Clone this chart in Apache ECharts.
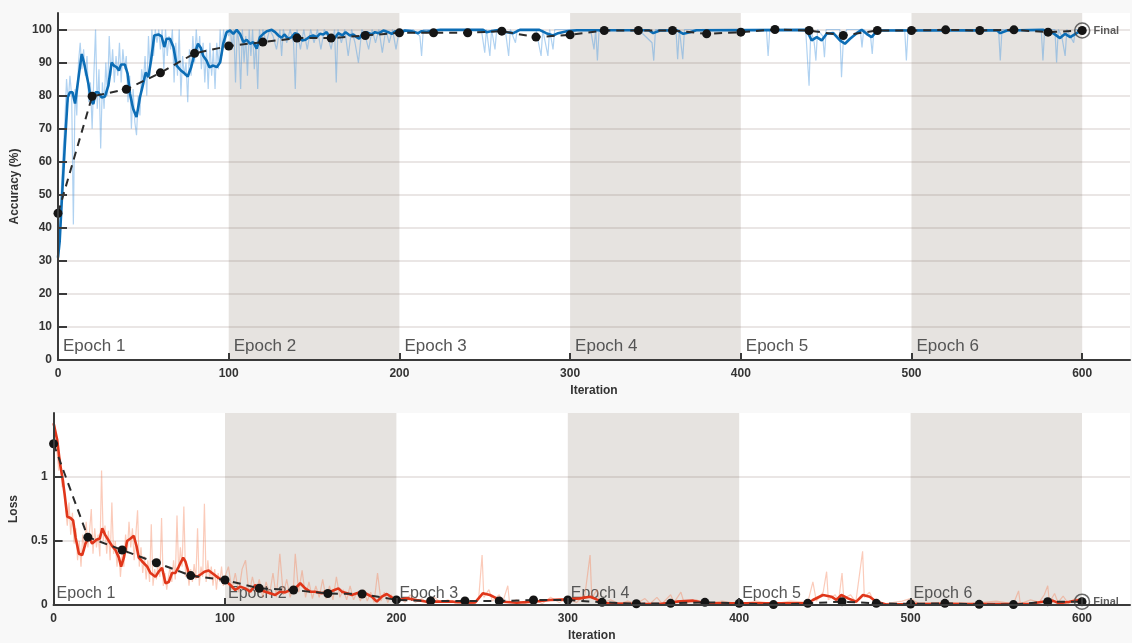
<!DOCTYPE html>
<html>
<head>
<meta charset="utf-8">
<title>Training Progress</title>
<script src="https://cdn.jsdelivr.net/npm/echarts@6/dist/echarts.min.js"></script>
<style>
  html, body { margin: 0; padding: 0; background: #f8f8f8; }
  #chart { width: 1132px; height: 643px; }
</style>
</head>
<body>
<div id="chart"></div>
<script>
// ---- axis ticks and epoch layout ----
const xTicks = [0, 100, 200, 300, 400, 500, 600];
const accTicks = [0, 10, 20, 30, 40, 50, 60, 70, 80, 90, 100];
const lossTicks = [0, 0.5, 1];
const epochNames = ['Epoch 1', 'Epoch 2', 'Epoch 3', 'Epoch 4', 'Epoch 5', 'Epoch 6'];
const epochBounds = [0, 100, 200, 300, 400, 500, 600];
const epochShaded = [false, true, false, true, false, true];

// ---- validation checkpoints ----
const valIters = [0, 20, 40, 60, 80, 100, 120, 140, 160, 180, 200, 220, 240, 260, 280, 300,
  320, 340, 360, 380, 400, 420, 440, 460, 480, 500, 520, 540, 560, 580, 600];
const valAcc = [44.4, 79.8, 81.9, 86.9, 92.8, 95.0, 96.2, 97.4, 97.4, 98.2, 99.0, 99.0, 99.0, 99.5, 97.7, 98.4,
  99.7, 99.7, 99.7, 98.7, 99.2, 100, 99.7, 98.2, 99.7, 99.7, 99.9, 99.7, 99.9, 99.2, 99.7];
const valLoss = [1.26, 0.53, 0.43, 0.33, 0.23, 0.195, 0.13, 0.117, 0.09, 0.086, 0.04, 0.031, 0.031, 0.031, 0.039, 0.039,
  0.021, 0.01, 0.013, 0.021, 0.013, 0.003, 0.013, 0.026, 0.013, 0.008, 0.013, 0.005, 0.003, 0.026, 0.026];

// ---- training accuracy, smoothed [iteration, %] ----
const accSmooth = [[0,31],[1,36],[2,46],[4,65],[5.7,79.5],[7,81],[8.5,81],[10,77.6],[11,77],[12.3,86.6],[13.9,92.6],
  [15.4,89.6],[16.5,89],[17.8,83.6],[19.3,78.5],[20.7,77.5],[22,81],[23.5,81],[25.6,79.4],[27.5,79.7],[29.5,83],
  [31.4,90],[32.9,89],[34.4,88.6],[35.7,87.6],[36.9,89.4],[39.2,89.4],[40.8,86.6],[42.2,80.5],[44,76],[46,73.5],
  [48,79.5],[49.4,82.5],[51.4,87],[52.9,85.6],[54.5,90.6],[56.4,98.2],[58.8,98.5],[60.7,97.9],[62.3,94.7],[63.6,97.2],
  [65.6,97.2],[67.6,94.7],[69.5,89.1],[72,87.6],[74,86.8],[76,85.8],[78,88.6],[80,92.6],[82,95.7],[83.6,94.5],
  [85,92.1],[87,90.6],[88.7,88.6],[91,89.1],[93,88.6],[95,90.1],[96.8,95.7],[98.8,99.2],[100.8,99.7],[102.7,98.7],
  [104.7,99.9],[106.6,98.7],[108.6,96.2],[110.5,96.9],[112.5,95.7],[114.4,96.2],[116.4,94.2],[118.3,97.7],[120.3,98.7],
  [122.3,99.5],[125.2,99.9],[127.2,99.2],[129.1,98.2],[131,97.5],[132.6,98.5],[134.9,97.2],[136.9,97.7],[138.8,98.9],
  [140.8,98.5],[143,96.7],[145,96.9],[147.6,97.9],[149.5,98.2],[151.5,97.7],[153.4,98.7],[155.4,98.5],[157.4,99.2],
  [159.3,97.5],[162.3,97.5],[164.2,98.9],[166.6,98.2],[168.5,99.2],[171,98.2],[173,98.5],[175,97.7],[176.4,97.2],
  [178.3,98.7],[180.8,99.2],[183.8,98.5],[185.7,99.2],[188,98.9],[190.6,99.7],[193.5,99.2],[195.5,98.7],[197.8,99.5],
  [200.3,98.9],[203.3,99.7],[207.2,99.5],[211,98.9],[213,99.5],[216,99.3],[220,99.7],[224,99.9],[249,99.9],[251,99.2],
  [255,99.6],[259,99.9],[263,99.2],[266.7,98.9],[270.6,99.9],[282,99.9],[286,98.9],[290,98.2],[293,98.9],[298,99.5],
  [304,99.8],[317,99.8],[319.5,99.3],[322,99.8],[346,99.8],[348.7,98.9],[352.6,99.7],[362.4,99.8],[366.3,98.7],
  [370.2,99.2],[374,99.8],[438.6,99.9],[441.5,96.7],[444.5,97.7],[447.4,96.7],[450.3,98.7],[454.2,98.9],[458.1,96.7],
  [461,95.7],[464,97.2],[467.9,98.9],[470.8,99.9],[473.7,98.7],[476.6,97.7],[480,99.7],[550,99.8],[552,98.9],
  [556,99.7],[577,99.9],[583,98.9],[587,97.4],[590,98.7],[593,97.7],[597,99],[600,99.8]];

// ---- training accuracy, per iteration [iteration, %] ----
const accRaw = [[0,28],[1,40],[2,52],[3,63],[4,72],[5,85],[6,78],[7,86],[8,80],[9,41],[10,82],[11,74],[12,90],[13,96],
  [14,88],[15,94],[16,86],[17,92],[18,78],[19,84],[20,70],[21,86],[22,100],[23,76],[24,88],[25,64],[26,84],[27,76],
  [28,90],[29,80],[30,98],[31,86],[32,94],[33,84],[34,92],[35,86],[36,96],[37,84],[38,94],[39,88],[40,92],[41,78],
  [42,86],[43,70],[44,82],[45,72],[46,68],[47,80],[48,74],[49,88],[50,84],[51,92],[52,80],[53,98],[54,86],[55,100],
  [56,92],[57,100],[58,96],[59,100],[60,94],[61,100],[62,88],[63,100],[64,92],[65,98],[66,94],[67,100],[68,84],
  [69,96],[70,86],[71,100],[72,80],[73,92],[74,86],[75,90],[76,78],[77,94],[78,86],[79,98],[80,90],[81,100],[82,92],
  [83,98],[84,88],[85,96],[86,84],[87,94],[88,82],[89,96],[90,86],[91,94],[92,82],[93,96],[94,88],[95,100],[96,92],
  [97,100],[98,96],[99,100],[100,98],[101,100],[102,94],[103,100],[104,84],[105,100],[106,96],[107,82],[108,100],
  [109,90],[110,98],[111,86],[112,100],[113,92],[114,100],[115,88],[116,96],[117,82],[118,100],[119,96],[120,100],
  [122,96],[124,100],[126,98],[128,94],[130,100],[131,92],[132,100],[134,96],[136,100],[138,96],[139,82],[140,100],
  [142,94],[144,100],[146,94],[148,100],[150,96],[152,100],[154,94],[156,100],[158,98],[160,94],[162,100],[163,84],
  [164,100],[166,96],[168,100],[170,92],[172,100],[174,96],[176,90],[178,100],[180,98],[182,94],[184,100],[186,96],
  [188,100],[190,93],[192,100],[194,96],[196,100],[198,94],[200,100],[202,100],[208,100],[212,98],[213,92],[214,100],
  [230,100],[240,100],[248,100],[250,93],[251,100],[253,92],[254,100],[256,94],[257,100],[262,100],[264,92],[265,100],
  [268,96],[269,100],[280,100],[283,92],[284,100],[287,92],[288,100],[290,94],[291,100],[300,100],[312,100],[314,94],
  [315,100],[316,90.6],[317,100],[340,100],[348,96],[349,90.6],[350,100],[362,100],[363,91],[364,100],[366,91],
  [367,100],[380,100],[400,100],[415,100],[416,92],[417,100],[438,100],[440,83],[441,100],[443,96],[444,90.6],
  [445,100],[448,98],[449,91.6],[450,100],[458,100],[459,85.6],[460,96],[462,100],[470,100],[471,94.6],[472,100],
  [476,98],[477,92.6],[478,100],[496,100],[497,90.6],[498,100],[540,100],[551,100],[552,90.6],[553,100],[576,100],
  [577,90.6],[578,100],[584,100],[585,90],[586,100],[588,98],[590,92],[591,100],[595,96],[596,100],[600,100]];

// ---- training loss, smoothed [iteration, loss] ----
const lossSmooth = [[0,1.42],[2.1,1.29],[3.7,1.11],[5.1,1.0],[6.4,0.87],[8,0.69],[9.9,0.68],[11.4,0.66],[12.8,0.53],
  [14.8,0.40],[16.7,0.39],[18.6,0.48],[20.6,0.53],[22.5,0.48],[25,0.51],[27,0.52],[28.4,0.6],[30,0.55],[32.3,0.5],
  [34.2,0.46],[36.1,0.43],[38.1,0.37],[39.4,0.3],[41,0.37],[42.9,0.5],[44.9,0.52],[46.8,0.54],[48.4,0.46],[49.7,0.37],
  [51.7,0.34],[54.6,0.3],[56.5,0.25],[59.4,0.22],[61.3,0.26],[63.3,0.29],[65.3,0.17],[67.2,0.18],[69.1,0.25],
  [71.1,0.25],[73,0.3],[75.6,0.37],[76.9,0.34],[78.9,0.25],[80.8,0.24],[83.7,0.22],[86,0.24],[88,0.26],[90.5,0.27],
  [93.4,0.24],[96.3,0.21],[98.3,0.2],[101.2,0.18],[103.1,0.156],[106,0.117],[108.9,0.143],[111.8,0.13],[114.7,0.104],
  [117.7,0.156],[120.6,0.117],[123.5,0.104],[126.4,0.091],[129.3,0.078],[132.2,0.104],[135.1,0.098],[138,0.117],
  [141,0.13],[143.9,0.17],[146.8,0.13],[149.7,0.104],[152.6,0.104],[156.5,0.091],[159.4,0.104],[162.4,0.11],
  [166.2,0.13],[168.2,0.104],[171.1,0.091],[174,0.078],[176.9,0.091],[179.8,0.104],[182.7,0.086],[185.6,0.065],
  [188.6,0.026],[191.5,0.065],[194.4,0.086],[197.3,0.06],[200.2,0.039],[203.1,0.044],[206,0.052],[211.8,0.039],
  [217.7,0.026],[225.5,0.026],[233.2,0.026],[241,0.018],[246,0.02],[250.4,0.091],[254.6,0.078],[258.5,0.052],
  [262.4,0.026],[270.2,0.018],[279.9,0.026],[289.6,0.039],[299.4,0.044],[307.1,0.052],[313,0.065],[316.8,0.044],
  [322.7,0.013],[338.2,0.008],[353.8,0.008],[363.5,0.026],[373.2,0.034],[380,0.015],[400,0.013],[420,0.013],
  [440,0.015],[443,0.039],[448.9,0.078],[453.8,0.065],[456.7,0.04],[459.6,0.078],[463.5,0.052],[468.3,0.026],
  [472.2,0.078],[476.1,0.065],[480,0.026],[485.8,0.003],[500,0.008],[540,0.008],[570,0.01],[577,0.026],[582.9,0.034],
  [586.7,0.013],[592.6,0.026],[598.4,0.039],[600,0.035]];

// ---- training loss, per iteration [iteration, loss] ----
const lossRaw = [[0,1.45],[1,1.38],[2,1.2],[3,1.05],[4,1.15],[5,0.92],[6,0.98],[7,0.75],[8,0.62],[9,0.8],[10,0.55],
  [11,0.72],[12,0.48],[13,0.6],[14,0.35],[15,0.5],[16,0.3],[17,0.55],[18,0.42],[19,0.65],[20,0.45],[21,0.58],[22,0.75],
  [23,0.4],[24,0.6],[25,0.45],[26,0.55],[27,0.38],[28,1.05],[29,0.5],[30,0.62],[31,0.4],[32,0.58],[33,0.35],[34,0.8],
  [35,0.4],[36,0.5],[37,0.3],[38,0.45],[39,0.22],[40,0.4],[41,0.3],[42,0.55],[43,0.4],[44,0.65],[45,0.45],[46,0.6],
  [47,0.35],[48,0.55],[49,0.74],[50,0.3],[51,0.45],[52,0.25],[53,0.38],[54,0.2],[55,0.35],[56,0.18],[57,0.63],[58,0.15],
  [59,0.28],[60,0.2],[61,0.35],[62,0.22],[63,0.68],[64,0.15],[65,0.25],[66,0.12],[67,0.22],[68,0.3],[69,0.18],[70,0.35],
  [71,0.2],[72,0.7],[73,0.25],[74,0.45],[75,0.3],[76,0.77],[77,0.22],[78,0.3],[79,0.15],[80,0.28],[81,0.18],[82,0.32],
  [83,0.2],[84,0.6],[85,0.15],[86,0.3],[87,0.22],[88,0.79],[89,0.18],[90,0.35],[91,0.2],[92,0.3],[93,0.15],[94,0.28],
  [95,0.12],[96,0.25],[97,0.18],[98,0.3],[99,0.15],[100,0.22],[102,0.3],[104,0.12],[106,0.25],[108,0.1],[110,0.28],
  [112,0.35],[114,0.08],[116,0.22],[118,0.1],[120,0.2],[122,0.06],[124,0.18],[126,0.08],[128,0.25],[130,0.06],
  [132,0.4],[134,0.08],[136,0.2],[138,0.06],[140,0.15],[141,0.4],[143,0.1],[145,0.27],[147,0.06],[149,0.18],[151,0.05],
  [153,0.15],[155,0.06],[157,0.2],[159,0.05],[161,0.15],[163,0.04],[165,0.22],[167,0.06],[169,0.12],[171,0.04],
  [173,0.15],[175,0.04],[177,0.1],[179,0.03],[181,0.12],[183,0.03],[185,0.1],[187,0.02],[189,0.25],[191,0.03],
  [193,0.1],[195,0.02],[197,0.08],[199,0.02],[202,0.06],[205,0.02],[208,0.08],[211,0.02],[215,0.05],[218,0.01],
  [222,0.06],[226,0.02],[230,0.04],[235,0.01],[240,0.03],[245,0.01],[248,0.05],[250,0.39],[251,0.06],[254,0.12],
  [256,0.03],[260,0.08],[262,0.02],[265,0.15],[266,0.02],[270,0.04],[275,0.01],[280,0.05],[285,0.01],[290,0.06],
  [295,0.02],[300,0.05],[305,0.02],[310,0.08],[313,0.39],[314,0.05],[317,0.12],[319,0.01],[325,0.04],[330,0.01],
  [335,0.03],[340,0.01],[345,0.05],[348,0.01],[352,0.06],[355,0.01],[360,0.08],[362,0.02],[366,0.1],[368,0.01],
  [375,0.04],[380,0.01],[390,0.03],[400,0.01],[410,0.03],[420,0.01],[430,0.03],[440,0.02],[443,0.18],[445,0.03],
  [449,0.1],[451,0.26],[452,0.04],[456,0.08],[458,0.03],[460,0.25],[461,0.05],[465,0.08],[468,0.02],[472,0.42],
  [473,0.06],[476,0.1],[479,0.02],[485,0.01],[495,0.03],[500,0.05],[505,0.01],[520,0.02],[535,0.01],[550,0.03],
  [560,0.01],[563,0.11],[564,0.01],[570,0.04],[575,0.02],[578,0.08],[580,0.15],[581,0.02],[584,0.09],[586,0.02],
  [589,0.07],[592,0.01],[596,0.05],[600,0.03]];

// ---- shared styling ----
const FONT = '"Liberation Sans", Arial, Helvetica, sans-serif';
const TEXT = '#333';
const GRID_LINE = 'rgba(115, 90, 80, 0.2)';

function epochAreas(labelDistance, fontSize) {
  return epochNames.map((name, i) => [
    {
      xAxis: epochBounds[i],
      name: name,
      itemStyle: { color: epochShaded[i] ? '#e6e3e0' : 'rgba(0,0,0,0)' },
      label: {
        show: true, position: 'insideBottomLeft', distance: labelDistance,
        color: '#555', fontSize: fontSize, fontFamily: FONT
      }
    },
    { xAxis: epochBounds[i + 1] }
  ]);
}

function xAxisCfg(gridIndex, nameGap) {
  return {
    type: 'value', gridIndex, min: 0, max: 628, interval: 100, z: 10,
    name: 'Iteration', nameLocation: 'middle', nameGap,
    nameTextStyle: { color: TEXT, fontSize: 12, fontWeight: 'bold', fontFamily: FONT },
    axisLine: { show: true, onZero: false, lineStyle: { color: '#3a3a3a', width: 2 } },
    axisTick: { show: true, inside: true, length: 7, customValues: xTicks, lineStyle: { color: '#3a3a3a', width: 2 } },
    axisLabel: { customValues: xTicks, margin: 8, color: TEXT, fontSize: 12, fontWeight: 'bold', fontFamily: FONT },
    splitLine: { show: false }
  };
}

function yAxisCfg(gridIndex, name, max, interval, ticks, nameGap) {
  return {
    type: 'value', gridIndex, min: 0, max, interval, z: 10,
    name, nameLocation: 'middle', nameGap, nameRotate: 90,
    nameTextStyle: { color: TEXT, fontSize: 12, fontWeight: 'bold', fontFamily: FONT },
    axisLine: { show: true, onZero: false, lineStyle: { color: '#3a3a3a', width: 2 } },
    axisTick: { show: true, inside: true, length: 9, customValues: ticks, lineStyle: { color: '#3a3a3a', width: 2 } },
    axisLabel: { customValues: ticks, margin: 6, color: TEXT, fontSize: 12, fontWeight: 'bold', fontFamily: FONT },
    splitLine: { show: false }
  };
}

function gridMarks(values) {
  return {
    silent: true, symbol: 'none', z: 2,
    label: { show: false },
    lineStyle: { color: GRID_LINE, width: 1.5, type: 'solid' },
    data: values.map(v => ({ yAxis: v }))
  };
}

const valAccPts = valIters.map((it, i) => [it, valAcc[i]]);
const valLossPts = valIters.map((it, i) => [it, valLoss[i]]);
const lastIdx = valIters.length - 1;

const option = {
  backgroundColor: '#f8f8f8',
  animation: false,
  grid: [
    { left: 58, top: 13, width: 1072, height: 347, show: true, backgroundColor: '#ffffff', borderWidth: 0 },
    { left: 53, top: 413, width: 1077, height: 192, show: true, backgroundColor: '#ffffff', borderWidth: 0 }
  ],
  xAxis: [xAxisCfg(0, 23), xAxisCfg(1, 25)],
  yAxis: [
    yAxisCfg(0, 'Accuracy (%)', 105, 5, accTicks, 28),
    yAxisCfg(1, 'Loss', 1.5, 0.5, lossTicks, 28)
  ],
  series: [
    // accuracy panel
    {
      name: 'Training accuracy', type: 'line', xAxisIndex: 0, yAxisIndex: 0, z: 3,
      data: accRaw, showSymbol: false, silent: true,
      lineStyle: { color: 'rgba(80, 155, 225, 0.45)', width: 1.2 },
      markArea: { silent: true, z: 1, data: epochAreas(5, 17) },
      markLine: gridMarks([10, 20, 30, 40, 50, 60, 70, 80, 90, 100])
    },
    {
      name: 'Training accuracy (smoothed)', type: 'line', xAxisIndex: 0, yAxisIndex: 0, z: 4,
      data: accSmooth, showSymbol: false, silent: true,
      lineStyle: { color: '#0c6db5', width: 2.6 }
    },
    {
      name: 'Validation accuracy', type: 'line', xAxisIndex: 0, yAxisIndex: 0, z: 5,
      data: valAccPts, symbol: 'circle', symbolSize: 9, silent: true,
      lineStyle: { color: '#2b2b2b', width: 2, type: [8, 6] },
      itemStyle: { color: '#151515' }
    },
    {
      name: 'Final accuracy', type: 'scatter', xAxisIndex: 0, yAxisIndex: 0, z: 6,
      data: [[valIters[lastIdx], valAcc[lastIdx]]], symbol: 'circle', symbolSize: 15, silent: true,
      itemStyle: { color: 'rgba(255,255,255,0)', borderColor: '#444', borderWidth: 1.5 },
      label: { show: true, formatter: 'Final', position: 'right', distance: 3,
        color: TEXT, fontSize: 11, fontWeight: 'bold', fontFamily: FONT }
    },
    // loss panel
    {
      name: 'Training loss', type: 'line', xAxisIndex: 1, yAxisIndex: 1, z: 3,
      data: lossRaw, showSymbol: false, silent: true,
      lineStyle: { color: 'rgba(245, 130, 90, 0.42)', width: 1.2 },
      markArea: { silent: true, z: 1, data: epochAreas(3, 16) },
      markLine: gridMarks([0.5, 1])
    },
    {
      name: 'Training loss (smoothed)', type: 'line', xAxisIndex: 1, yAxisIndex: 1, z: 4,
      data: lossSmooth, showSymbol: false, silent: true,
      lineStyle: { color: '#e0361a', width: 2.6 }
    },
    {
      name: 'Validation loss', type: 'line', xAxisIndex: 1, yAxisIndex: 1, z: 5,
      data: valLossPts, symbol: 'circle', symbolSize: 9, silent: true,
      lineStyle: { color: '#2b2b2b', width: 2, type: [8, 6] },
      itemStyle: { color: '#151515' }
    },
    {
      name: 'Final loss', type: 'scatter', xAxisIndex: 1, yAxisIndex: 1, z: 6,
      data: [[valIters[lastIdx], valLoss[lastIdx]]], symbol: 'circle', symbolSize: 15, silent: true,
      itemStyle: { color: 'rgba(255,255,255,0)', borderColor: '#444', borderWidth: 1.5 },
      label: { show: true, formatter: 'Final', position: 'right', distance: 3,
        color: TEXT, fontSize: 11, fontWeight: 'bold', fontFamily: FONT }
    }
  ]
};

const chart = echarts.init(document.getElementById('chart'), null, { renderer: 'canvas' });
chart.setOption(option);
</script>
</body>
</html>
